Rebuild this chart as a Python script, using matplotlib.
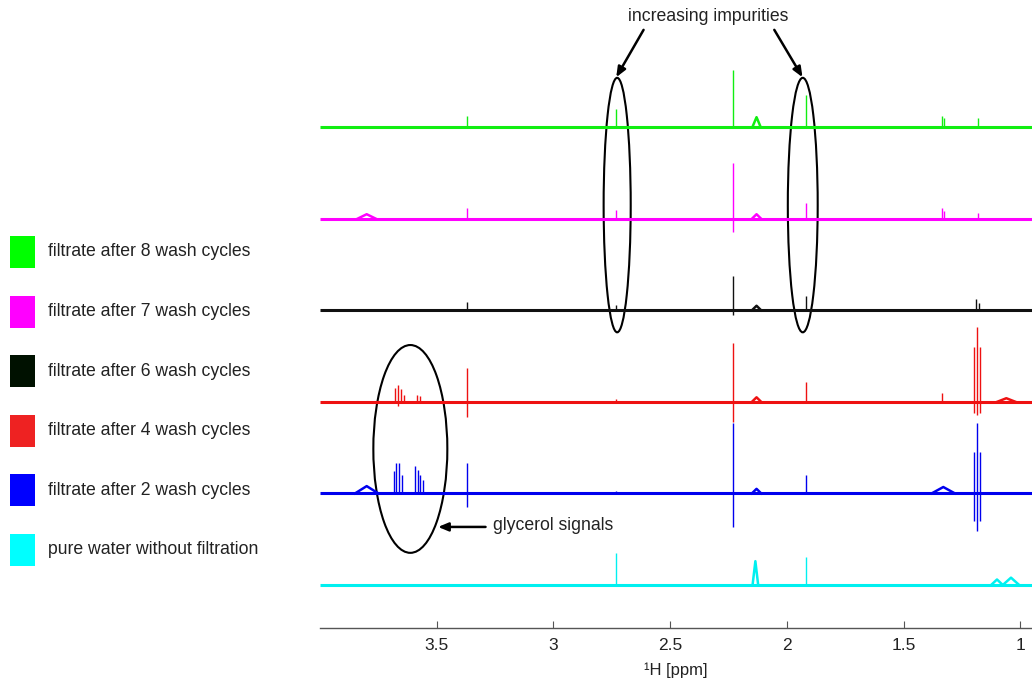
import matplotlib

matplotlib.use("Agg")

import matplotlib.pyplot as plt
from matplotlib.patches import Ellipse, Rectangle

plt.rcParams["font.family"] = ["Liberation Sans", "DejaVu Sans"]

# spectra, bottom to top
labels = [
    "pure water without filtration",
    "filtrate after 2 wash cycles",
    "filtrate after 4 wash cycles",
    "filtrate after 6 wash cycles",
    "filtrate after 7 wash cycles",
    "filtrate after 8 wash cycles",
]
line_colors = ["#00f0f0", "#0000ee", "#ee1111", "#111111", "#ff00ff", "#11ee11"]
swatch_colors = ["#00ffff", "#0000ff", "#ee2222", "#001100", "#ff00ff", "#00ff00"]
offsets = [0, 1, 2, 3, 4, 5]

# sharp lines: (ppm, height up, depth down)
cyan_lines = [(2.73, 0.35, 0.0), (1.92, 0.31, 0.0)]
blue_lines = [
    (3.685, 0.25, 0.0), (3.675, 0.33, 0.0), (3.662, 0.33, 0.0), (3.65, 0.20, 0.0),
    (3.595, 0.30, 0.0), (3.582, 0.26, 0.0), (3.57, 0.20, 0.0), (3.557, 0.15, 0.0),
    (3.37, 0.33, 0.15), (2.73, 0.03, 0.0), (2.23, 0.77, 0.37), (1.92, 0.20, 0.0),
    (1.20, 0.45, 0.30), (1.187, 0.77, 0.41), (1.174, 0.45, 0.30),
]
red_lines = [
    (3.68, 0.15, 0.0), (3.667, 0.18, 0.05), (3.655, 0.14, 0.0), (3.642, 0.08, 0.0),
    (3.585, 0.08, 0.0), (3.572, 0.06, 0.0), (3.37, 0.37, 0.16), (2.73, 0.03, 0.0),
    (2.23, 0.64, 0.22), (1.92, 0.22, 0.0), (1.335, 0.10, 0.0),
    (1.20, 0.60, 0.12), (1.187, 0.82, 0.14), (1.174, 0.60, 0.12),
]
black_lines = [
    (3.37, 0.09, 0.0), (2.73, 0.06, 0.0), (2.23, 0.38, 0.05), (1.92, 0.16, 0.0),
    (1.19, 0.12, 0.0), (1.177, 0.08, 0.0),
]
magenta_lines = [
    (3.37, 0.12, 0.0), (2.73, 0.10, 0.0), (2.23, 0.61, 0.14), (1.92, 0.17, 0.0),
    (1.335, 0.12, 0.0), (1.325, 0.08, 0.0), (1.18, 0.06, 0.0),
]
green_lines = [
    (3.37, 0.12, 0.0), (2.73, 0.20, 0.0), (2.23, 0.63, 0.0), (1.92, 0.35, 0.0),
    (1.335, 0.12, 0.0), (1.325, 0.10, 0.0), (1.18, 0.10, 0.0),
]

# broad humps: (ppm, height, half width)
cyan_humps = [(2.135, 0.26, 0.012), (1.10, 0.06, 0.025), (1.04, 0.08, 0.035)]
blue_humps = [(3.80, 0.08, 0.05), (2.13, 0.05, 0.02), (1.33, 0.07, 0.05)]
red_humps = [(2.13, 0.05, 0.02), (1.06, 0.04, 0.04)]
black_humps = [(2.13, 0.05, 0.02)]
magenta_humps = [(3.80, 0.05, 0.04), (2.13, 0.05, 0.02)]
green_humps = [(2.13, 0.11, 0.018)]

all_lines = [cyan_lines, blue_lines, red_lines, black_lines, magenta_lines, green_lines]
all_humps = [cyan_humps, blue_humps, red_humps, black_humps, magenta_humps, green_humps]

PPM_LEFT = 4.0
PPM_RIGHT = 0.95
xticks = [3.5, 3, 2.5, 2, 1.5, 1]
xtick_labels = ["3.5", "3", "2.5", "2", "1.5", "1"]


def draw_spectrum(ax, base, lines, humps, color):
    ax.plot([PPM_LEFT, PPM_RIGHT], [base, base], color=color, lw=2.2, solid_capstyle="butt")
    for ppm, up, down in lines:
        ax.vlines(ppm, base - down, base + up, color=color, lw=1.0)
    for ppm, height, half in humps:
        ax.plot([ppm + half, ppm, ppm - half], [base, base + height, base], color=color, lw=1.8)


def main():
    fig = plt.figure(figsize=(10.32, 6.82), dpi=100)
    ax = fig.add_axes([320 / 1032, 54 / 682, 712 / 1032, 628 / 682])

    for base, lines, humps, color in zip(offsets, all_lines, all_humps, line_colors):
        draw_spectrum(ax, base, lines, humps, color)

    ax.set_xlim(PPM_LEFT, PPM_RIGHT)
    ax.set_ylim(-0.47, 6.39)
    for side in ["left", "right", "top"]:
        ax.spines[side].set_visible(False)
    ax.spines["bottom"].set_color("#555555")
    ax.spines["bottom"].set_linewidth(1.0)
    ax.set_yticks([])
    ax.set_xticks(xticks)
    ax.set_xticklabels(xtick_labels)
    ax.tick_params(axis="x", direction="in", length=5, width=0.8, color="#555555",
                   labelsize=12.5, labelcolor="#222222", pad=7)
    ax.set_xlabel("¹H [ppm]", fontsize=12, color="#222222", labelpad=7)

    # annotations
    ell_kw = dict(fill=False, edgecolor="black", lw=1.5)
    ax.add_patch(Ellipse((2.727, 4.15), 0.116, 2.78, **ell_kw))
    ax.add_patch(Ellipse((1.932, 4.15), 0.128, 2.78, **ell_kw))
    ax.add_patch(Ellipse((3.613, 1.486), 0.317, 2.27, **ell_kw))

    arrow_kw = dict(arrowstyle="-|>,head_length=0.6,head_width=0.25", color="black", lw=1.8)
    ax.text(2.337, 6.21, "increasing impurities", ha="center", va="center", fontsize=12.7,
            color="#222222")
    ax.annotate("", xy=(2.737, 5.52), xytext=(2.608, 6.09), arrowprops=arrow_kw)
    ax.annotate("", xy=(1.927, 5.52), xytext=(2.06, 6.09), arrowprops=arrow_kw)
    ax.annotate("", xy=(3.506, 0.634), xytext=(3.279, 0.634), arrowprops=arrow_kw)
    ax.text(3.257, 0.645, "glycerol signals", ha="left", va="center", fontsize=12.7,
            color="#222222")

    # legend on the left, top to bottom
    for i, (label, color) in enumerate(zip(labels[::-1], swatch_colors[::-1])):
        yc = 252 + i * 59.6
        fig.add_artist(Rectangle((10 / 1032, 1 - (yc + 16) / 682), 25 / 1032, 32 / 682,
                                 transform=fig.transFigure, facecolor=color, edgecolor="none"))
        fig.text(48 / 1032, 1 - yc / 682, label, ha="left", va="center", fontsize=12.7,
                 color="#222222")

    fig.savefig("out.png", dpi=100)
    plt.close(fig)


if __name__ == "__main__":
    main()
